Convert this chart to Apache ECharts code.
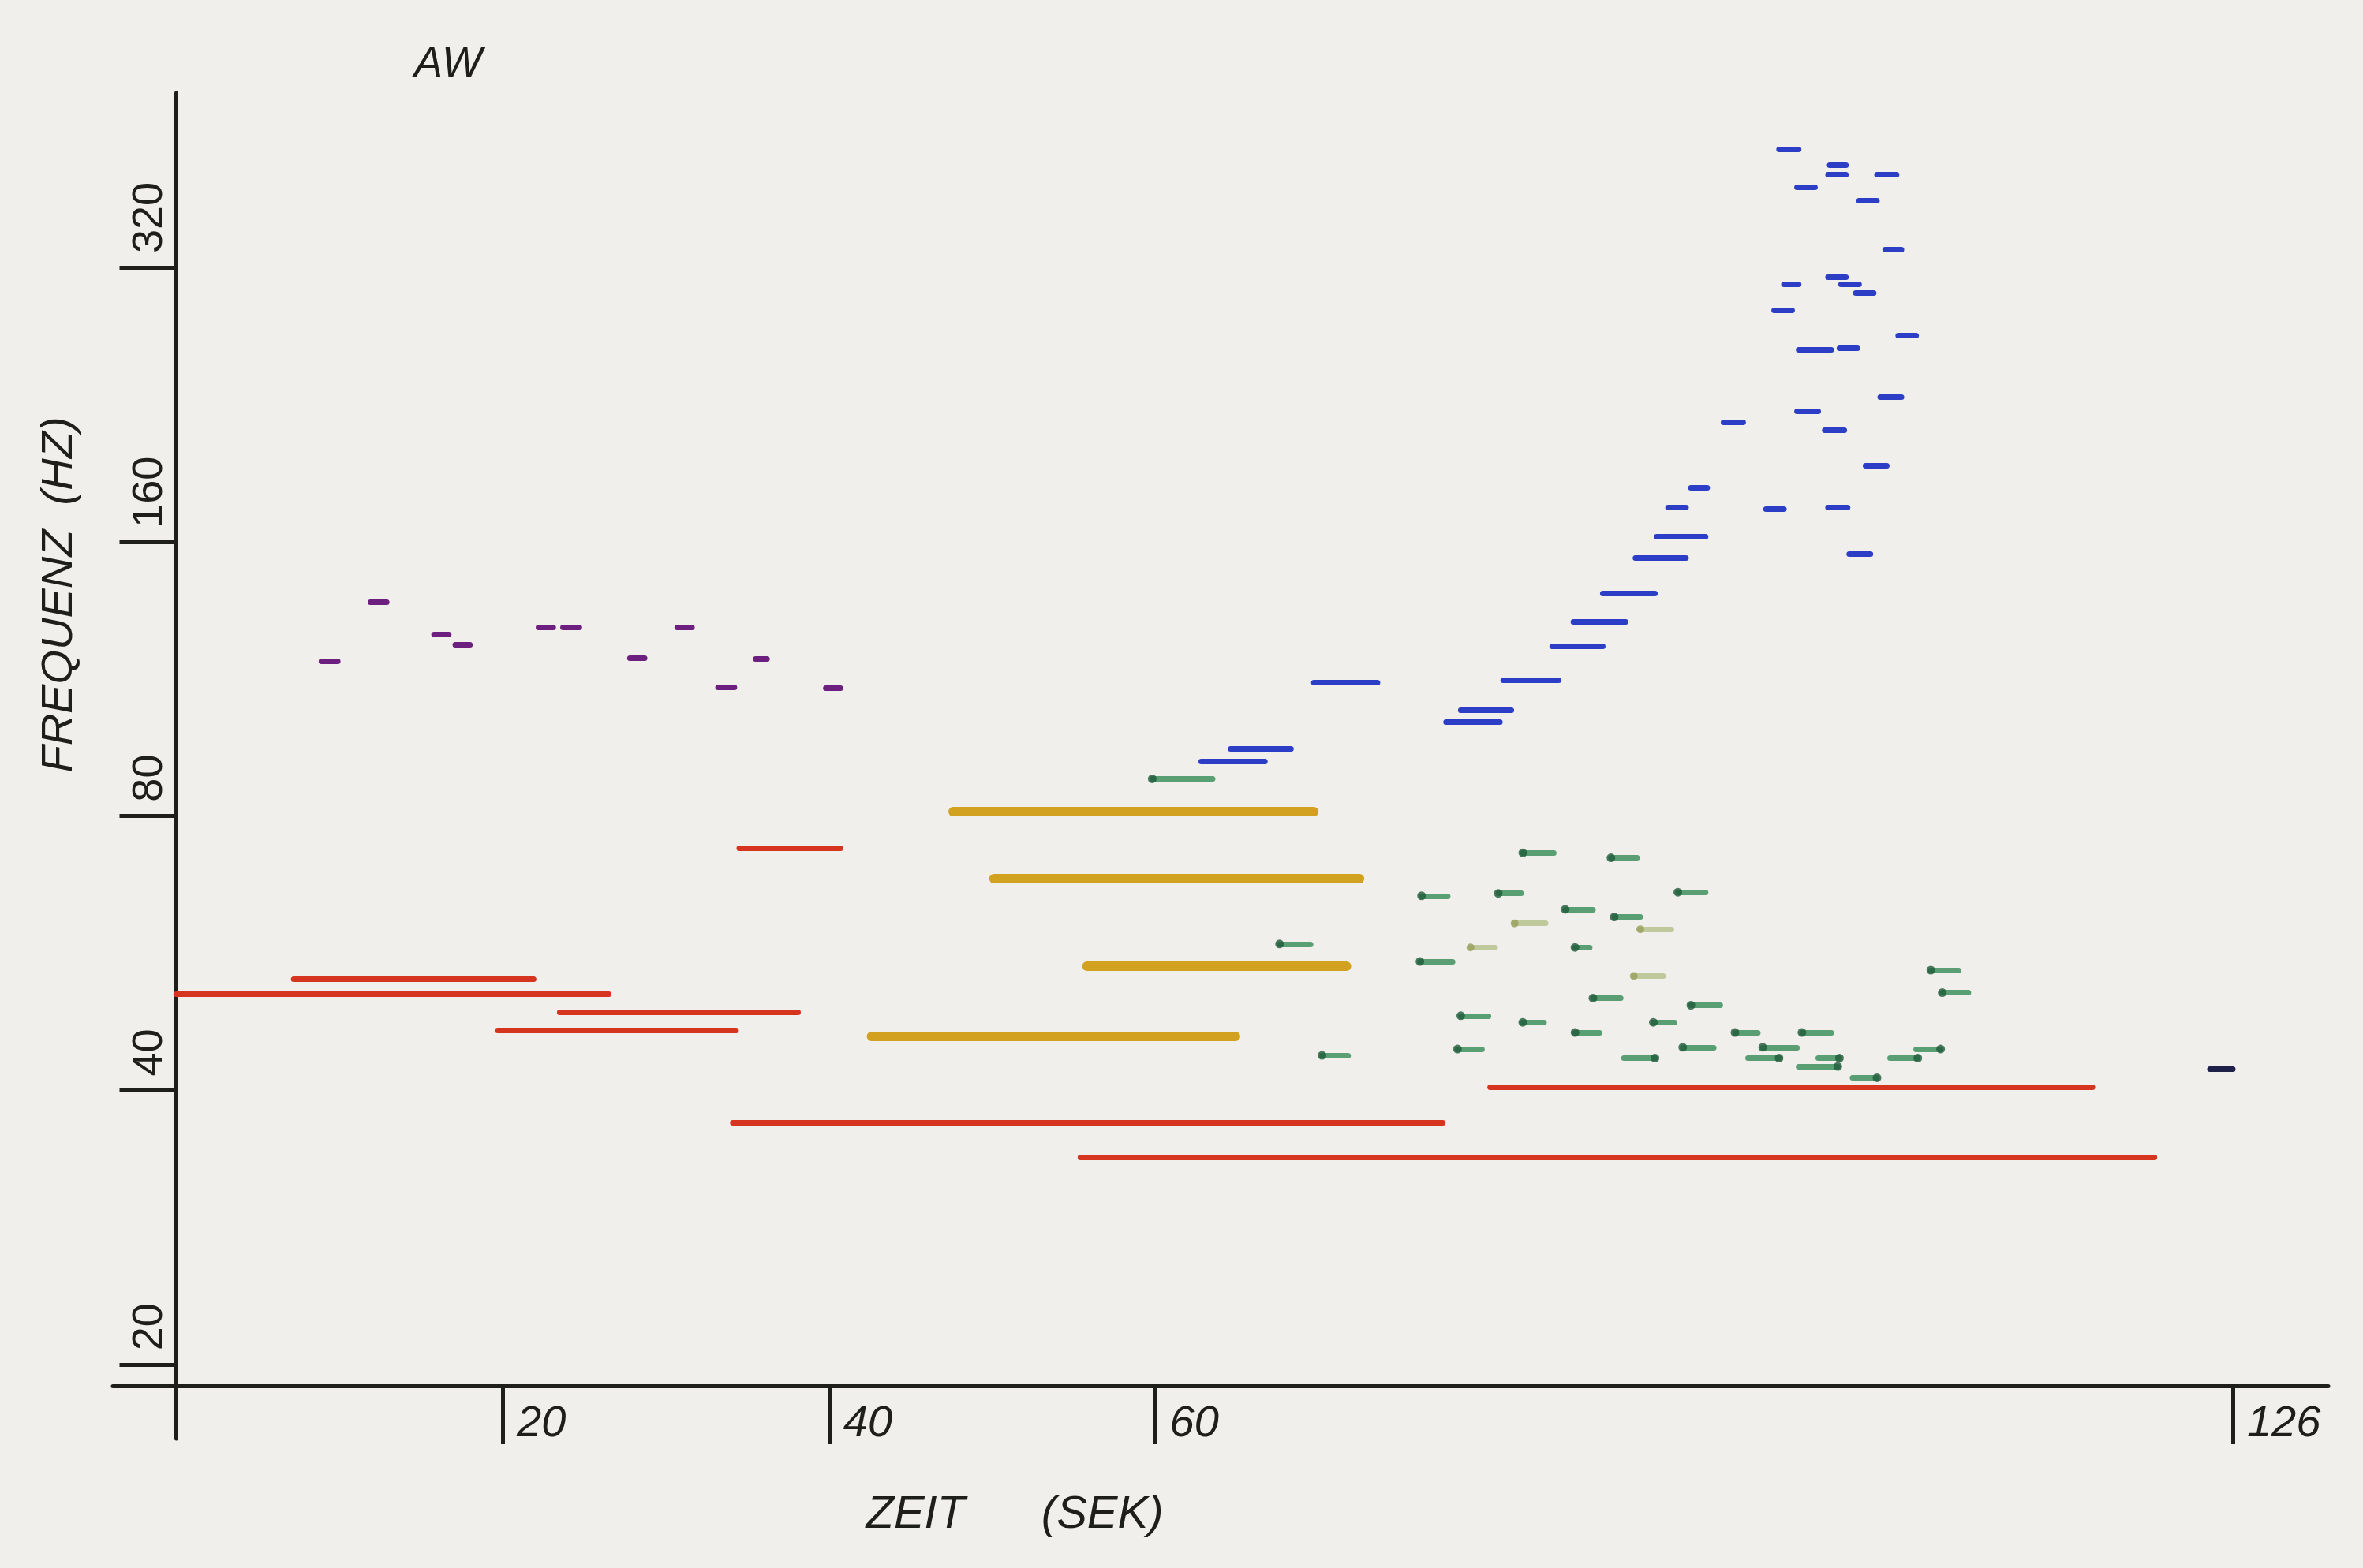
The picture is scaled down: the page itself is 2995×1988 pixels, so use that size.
<!DOCTYPE html>
<html>
<head>
<meta charset="utf-8">
<title>AW</title>
<script src="https://cdn.jsdelivr.net/npm/echarts@6/dist/echarts.min.js"></script>
<style>
  html, body { margin: 0; padding: 0; background: #f1efeb; }
  #chart { width: 2995px; height: 1988px; }
</style>
</head>
<body>
<div id="chart"></div>
<script>
// tick values
var timeTicks = [20, 40, 60, 126];
var freqTicks = [20, 40, 80, 160, 320];

// held tones: [start s, end s, Hz]
var redLines = [
  [0, 26.5, 51.0],
  [7.2, 21.9, 53.0],
  [23.5, 38.1, 48.7],
  [19.7, 34.3, 46.6],
  [34.5, 40.7, 73.8],
  [34.1, 77.6, 36.9],
  [55.4, 121.2, 33.8],
  [80.5, 117.4, 40.3]
];
var goldLines = [
  [47.6, 69.7, 80.9],
  [50.1, 72.5, 68.4],
  [55.8, 71.7, 54.8],
  [42.6, 64.9, 45.9]
];

// short tones: [start s, end s, Hz]
var purpleDashes = [
  [8.9, 9.9, 118.3],
  [11.9, 12.9, 137.4],
  [15.8, 16.7, 126.7],
  [17.1, 18.0, 123.4],
  [22.2, 23.1, 128.8],
  [23.7, 24.7, 128.8],
  [27.8, 28.7, 119.2],
  [30.7, 31.6, 128.8],
  [33.2, 34.2, 110.7],
  [35.5, 36.2, 119.0],
  [39.8, 40.7, 110.5]
];
var blueDashes = [
  [62.8, 66.7, 91.8],
  [64.6, 68.3, 94.9],
  [69.7, 73.6, 112.1],
  [77.8, 81.1, 101.4],
  [78.7, 81.8, 104.5],
  [81.3, 84.7, 112.7],
  [84.3, 87.4, 122.9],
  [85.6, 88.8, 130.6],
  [87.4, 90.6, 140.4],
  [89.4, 92.5, 153.6],
  [90.7, 93.7, 162.0],
  [91.4, 92.5, 174.6],
  [92.8, 93.8, 183.3],
  [94.8, 96.0, 216.3],
  [97.4, 98.5, 174.0],
  [97.9, 99.0, 287.5],
  [98.2, 99.4, 431.1],
  [98.5, 99.4, 307.0],
  [99.3, 100.4, 392.0],
  [99.3, 100.6, 222.4],
  [99.4, 101.4, 260.2],
  [101.0, 102.2, 212.1],
  [101.2, 102.3, 404.7],
  [101.2, 102.3, 312.1],
  [101.2, 102.4, 174.7],
  [101.3, 102.3, 414.6],
  [101.9, 103.0, 261.3],
  [102.0, 103.1, 306.7],
  [102.5, 103.8, 155.3],
  [102.9, 104.0, 300.4],
  [103.1, 104.2, 378.8],
  [103.5, 104.8, 194.0],
  [104.2, 105.4, 404.4],
  [104.4, 105.7, 230.9],
  [104.7, 105.7, 334.9],
  [105.5, 106.6, 269.3]
];
// green ones: first time is where the pen dot sits
var greenDashes = [
  [59.8, 63.5, 87.9],
  [67.6, 69.5, 57.9],
  [70.2, 71.8, 43.7],
  [82.5, 84.4, 72.9],
  [87.9, 89.5, 72.0],
  [76.3, 77.9, 65.4],
  [81.0, 82.4, 65.8],
  [92.0, 93.7, 66.0],
  [85.1, 86.8, 63.2],
  [88.1, 89.7, 62.0],
  [85.7, 86.6, 57.4],
  [76.2, 78.2, 55.4],
  [86.8, 88.5, 50.5],
  [92.8, 94.6, 49.6],
  [78.7, 80.4, 48.3],
  [82.5, 83.8, 47.5],
  [90.5, 91.8, 47.5],
  [85.7, 87.2, 46.3],
  [95.5, 96.9, 46.3],
  [99.6, 101.4, 46.3],
  [78.5, 80.0, 44.4],
  [92.3, 94.2, 44.6],
  [97.2, 99.3, 44.6],
  [90.6, 88.7, 43.4],
  [98.2, 96.3, 43.4],
  [101.9, 100.6, 43.4],
  [101.8, 99.4, 42.5],
  [104.2, 102.7, 41.3],
  [106.7, 105.0, 43.4],
  [108.1, 106.6, 44.4],
  [107.5, 109.2, 54.2],
  [108.2, 109.8, 51.2]
];
var paleDashes = [
  [82.0, 83.9, 61.0],
  [89.7, 91.6, 60.1],
  [79.3, 80.8, 57.4],
  [89.3, 91.1, 53.4]
];
var darkDashes = [
  [124.6, 126.0, 42.2]
];

var ink = '#1e1f1a';
var axisStyle = { color: ink, width: 5 };

function segs(list) {
  return list.map(function (d) {
    return { coords: [[d[0], d[2]], [d[1], d[2]]] };
  });
}
function dots(list) {
  return list.map(function (d) { return [d[0], d[2]]; });
}
function toneSeries(list, color, width) {
  return {
    type: 'lines',
    coordinateSystem: 'cartesian2d',
    data: segs(list),
    silent: true,
    lineStyle: { color: color, width: width, opacity: 1, cap: 'round' }
  };
}

var chart = echarts.init(document.getElementById('chart'));
var option = {
  animation: false,
  backgroundColor: '#f1efeb',
  title: {
    text: 'AW',
    left: 520,
    top: 50,
    textStyle: {
      fontFamily: 'Liberation Sans',
      fontStyle: 'italic',
      fontWeight: 'normal',
      fontSize: 54,
      color: ink
    }
  },
  grid: {
    left: 143,
    right: 44,
    top: 118,
    bottom: 164,
    outerBoundsMode: 'none'
  },
  xAxis: {
    type: 'value',
    min: -3.88,
    max: 131.85,
    offset: -67,
    axisLine: { onZero: false, lineStyle: axisStyle },
    axisTick: { customValues: timeTicks, length: 74, lineStyle: axisStyle },
    axisLabel: {
      customValues: timeTicks,
      align: 'left',
      verticalAlign: 'top',
      padding: [0, 0, 0, 18],
      margin: 20,
      fontFamily: 'Liberation Sans',
      fontStyle: 'italic',
      fontSize: 56,
      lineHeight: 56,
      color: ink
    },
    splitLine: { show: false },
    name: 'ZEIT      (SEK)',
    nameLocation: 'middle',
    nameGap: 135,
    nameMoveOverlap: false,
    nameTextStyle: {
      fontFamily: 'Liberation Sans',
      fontStyle: 'italic',
      fontSize: 58,
      color: ink,
      padding: [0, 522, 0, 0]
    }
  },
  yAxis: {
    type: 'log',
    logBase: 2,
    min: 16.59,
    max: 497.2,
    offset: -80.5,
    axisLine: { onZero: false, lineStyle: axisStyle },
    axisTick: { customValues: freqTicks, length: 72, lineStyle: axisStyle },
    axisLabel: {
      customValues: freqTicks,
      rotate: 90,
      align: 'left',
      verticalAlign: 'bottom',
      padding: [0, 0, 0, 18],
      margin: 5,
      fontFamily: 'Liberation Sans',
      fontSize: 54,
      lineHeight: 56,
      color: ink
    },
    splitLine: { show: false },
    minorTick: { show: false },
    name: 'FREQUENZ  (HZ)',
    nameLocation: 'middle',
    nameRotate: 90,
    nameGap: 120,
    nameMoveOverlap: false,
    nameTextStyle: {
      fontFamily: 'Liberation Sans',
      fontStyle: 'italic',
      fontSize: 56,
      color: ink,
      padding: [0, 0, 0, 434]
    }
  },
  series: [
    toneSeries(redLines, '#d5351f', 7),
    toneSeries(goldLines, '#d2a11f', 12),
    toneSeries(purpleDashes, '#6d1f7f', 7),
    toneSeries(blueDashes, '#2c3ec6', 7),
    toneSeries(paleDashes, '#bfc99c', 7),
    toneSeries(greenDashes, '#5a9f73', 7),
    toneSeries(darkDashes, '#1f2148', 7),
    {
      type: 'scatter',
      data: dots(greenDashes),
      symbolSize: 11,
      silent: true,
      itemStyle: { color: '#1f5a3a' }
    },
    {
      type: 'scatter',
      data: dots(paleDashes),
      symbolSize: 10,
      silent: true,
      itemStyle: { color: '#98a05c' }
    }
  ]
};
chart.setOption(option);
</script>
</body>
</html>
